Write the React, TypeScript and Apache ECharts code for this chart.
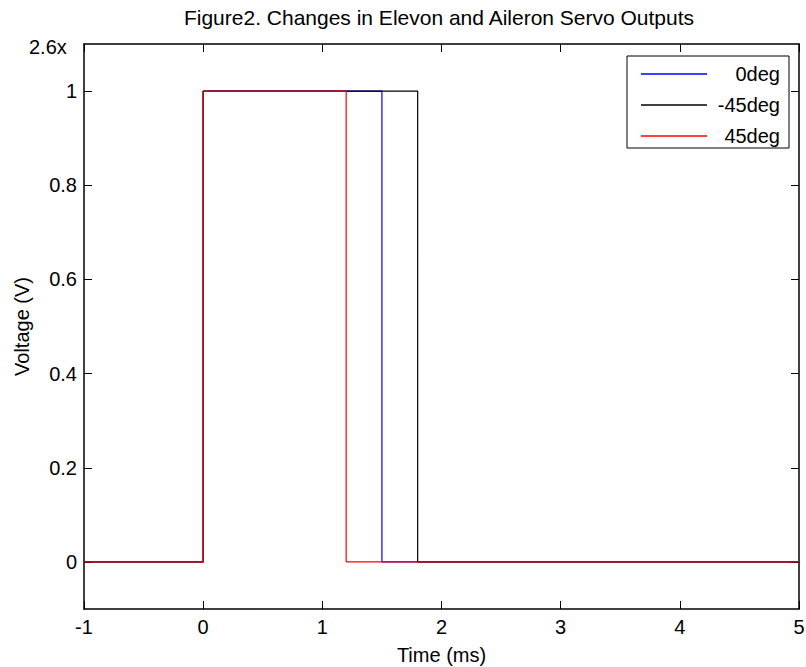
import React, { useEffect, useRef } from "react";
import * as echarts from "echarts";

const chartTitle = "Figure2. Changes in Elevon and Aileron Servo Outputs";
const xName = "Time (ms)";
const yName = "Voltage (V)";
const cornerNote = "2.6x";

const seriesNames = ["0deg", "-45deg", "45deg"];
const seriesColors = ["#0000ff", "#000000", "#ff0000"];

// step signals: time (ms) / voltage (V)
const time0deg = [-1, 0, 0, 1.5, 1.5, 5];
const volt0deg = [0, 0, 1, 1, 0, 0];
const timeMinus45 = [-1, 0, 0, 1.8, 1.8, 5];
const voltMinus45 = [0, 0, 1, 1, 0, 0];
const time45deg = [-1, 0, 0, 1.2, 1.2, 5];
const volt45deg = [0, 0, 1, 1, 0, 0];

const yTicks = [0, 0.2, 0.4, 0.6, 0.8, 1];
const xMin = -1;
const xMax = 5;
const yMin = -0.1;
const yMax = 1.1;

const FONT = "Liberation Sans, Arial, Helvetica, sans-serif";

function pairs(xs: number[], ys: number[]) {
  return xs.map((x, i) => [x, ys[i]]);
}

export default function App() {
  const ref = useRef<HTMLDivElement>(null);
  useEffect(() => {
    document.body.style.margin = "0";
    if (!ref.current) return;
    const chart = echarts.init(ref.current, null, { renderer: "svg" });
    const datasets = [
      pairs(time0deg, volt0deg),
      pairs(timeMinus45, voltMinus45),
      pairs(time45deg, volt45deg),
    ];
    const tickCommon = { show: true, inside: true, length: 8, lineStyle: { color: "#000", width: 1 } };
    const lineCommon = { show: true, onZero: false, lineStyle: { color: "#000", width: 1.5 } };
    chart.setOption({
      animation: false,
      backgroundColor: "#fff",
      textStyle: { fontFamily: FONT },
      grid: { left: 84, top: 44, right: 7, bottom: 58, containLabel: false, outerBoundsMode: "none" },
      graphic: [
        {
          type: "text",
          x: 439,
          y: 17,
          style: { text: chartTitle, fontSize: 21, fontFamily: FONT, fill: "#000", textAlign: "center", textVerticalAlign: "middle" },
        },
        {
          type: "text",
          x: 29,
          y: 47,
          style: { text: cornerNote, fontSize: 20, fontFamily: FONT, fill: "#000", textAlign: "left", textVerticalAlign: "middle" },
        },
      ],
      legend: {
        orient: "vertical",
        left: 627,
        top: 56,
        padding: [7, 9, 1, 14],
        borderColor: "#000",
        borderWidth: 1,
        backgroundColor: "#fff",
        icon: "rect",
        itemWidth: 66,
        itemHeight: 1.5,
        itemGap: 9,
        data: seriesNames,
        formatter: (name: string) => `{r|${name}}`,
        textStyle: {
          fontSize: 20,
          fontFamily: FONT,
          color: "#000",
          rich: { r: { width: 68, height: 22, lineHeight: 22, align: "right", fontSize: 20, fontFamily: FONT, color: "#000" } },
        },
      },
      xAxis: [
        {
          type: "value",
          position: "bottom",
          min: xMin,
          max: xMax,
          interval: 1,
          name: xName,
          nameLocation: "middle",
          nameGap: 36,
          nameTextStyle: { fontSize: 20, fontFamily: FONT, color: "#000" },
          axisLine: lineCommon,
          axisTick: tickCommon,
          axisLabel: { fontSize: 20, fontFamily: FONT, color: "#000", margin: 8 },
          splitLine: { show: false },
        },
        {
          type: "value",
          position: "top",
          min: xMin,
          max: xMax,
          interval: 1,
          axisLine: lineCommon,
          axisTick: tickCommon,
          axisLabel: { show: false },
          splitLine: { show: false },
        },
      ],
      yAxis: [
        {
          type: "value",
          position: "left",
          min: yMin,
          max: yMax,
          name: yName,
          nameLocation: "middle",
          nameGap: 52,
          nameTextStyle: { fontSize: 20, fontFamily: FONT, color: "#000" },
          axisLine: lineCommon,
          axisTick: { ...tickCommon, customValues: yTicks },
          axisLabel: {
            fontSize: 20,
            fontFamily: FONT,
            color: "#000",
            margin: 7,
            customValues: yTicks,
            formatter: (v: number) => String(+v.toFixed(1)),
          },
          splitLine: { show: false },
        },
        {
          type: "value",
          position: "right",
          min: yMin,
          max: yMax,
          axisLine: lineCommon,
          axisTick: { ...tickCommon, customValues: yTicks },
          axisLabel: { show: false },
          splitLine: { show: false },
        },
      ],
      series: seriesNames.map((name, i) => ({
        name,
        type: "line",
        xAxisIndex: 0,
        yAxisIndex: 0,
        data: datasets[i],
        symbol: "none",
        showSymbol: false,
        color: seriesColors[i],
        lineStyle: { color: seriesColors[i], width: 1.2 },
        z: 2 + i,
      })),
    });
    return () => chart.dispose();
  }, []);
  return <div ref={ref} style={{ width: 806, height: 667 }} />;
}
